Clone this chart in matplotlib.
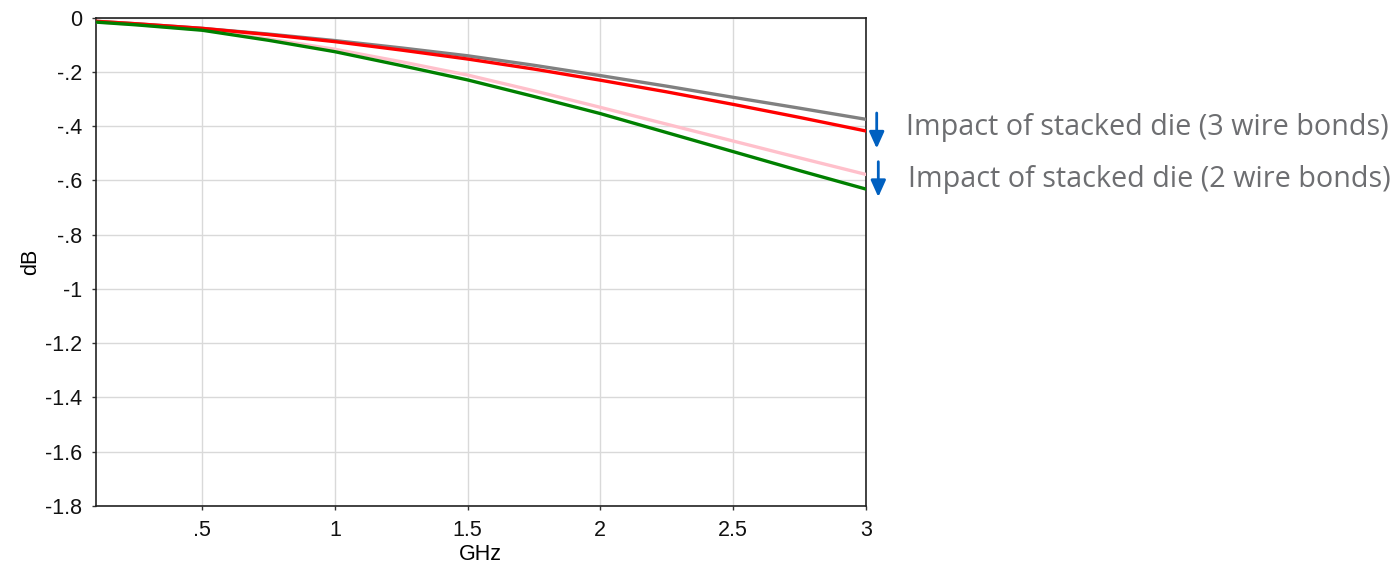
import matplotlib
matplotlib.use("Agg")
import matplotlib.pyplot as plt

# Insertion loss vs frequency for four package configurations
freq_ghz = [0.1, 0.25, 0.5, 0.75, 1.0, 1.25, 1.5, 1.75, 2.0, 2.25, 2.5, 2.75, 3.0]
loss_gray = [-0.014, -0.023, -0.040, -0.061, -0.085, -0.112, -0.141, -0.176, -0.214, -0.253, -0.294, -0.334, -0.375]
loss_red = [-0.014, -0.023, -0.040, -0.063, -0.089, -0.120, -0.153, -0.190, -0.231, -0.274, -0.320, -0.368, -0.418]
loss_pink = [-0.016, -0.026, -0.045, -0.079, -0.117, -0.163, -0.212, -0.270, -0.331, -0.393, -0.455, -0.517, -0.578]
loss_green = [-0.017, -0.027, -0.047, -0.084, -0.126, -0.177, -0.230, -0.291, -0.354, -0.424, -0.494, -0.564, -0.632]

x_ticks = [0.5, 1.0, 1.5, 2.0, 2.5, 3.0]
x_tick_labels = [".5", "1", "1.5", "2", "2.5", "3"]
y_ticks = [0, -0.2, -0.4, -0.6, -0.8, -1.0, -1.2, -1.4, -1.6, -1.8]
y_tick_labels = ["0", "-.2", "-.4", "-.6", "-.8", "-1", "-1.2", "-1.4", "-1.6", "-1.8"]

notes = ["Impact of stacked die (3 wire bonds)", "Impact of stacked die (2 wire bonds)"]

W, H = 1394, 567
fig = plt.figure(figsize=(W / 100, H / 100), dpi=100)
ax = fig.add_axes([96 / W, 1 - 506 / H, (865.7 - 96) / W, (506 - 17.5) / H])

lw = 2.4
ax.plot(freq_ghz, loss_gray, color="#808080", lw=lw, zorder=3)
ax.plot(freq_ghz, loss_red, color="#ff0000", lw=lw, zorder=4)
ax.plot(freq_ghz, loss_pink, color="#ffc0cb", lw=lw, zorder=3)
ax.plot(freq_ghz, loss_green, color="#008000", lw=lw, zorder=4)

ax.set_xlim(0.1, 3.0)
ax.set_ylim(-1.8, 0)
ax.set_xticks(x_ticks)
ax.set_xticklabels(x_tick_labels)
ax.set_yticks(y_ticks)
ax.set_yticklabels(y_tick_labels)

for lab in ax.get_xticklabels() + ax.get_yticklabels():
    lab.set_fontfamily("Liberation Sans")
    lab.set_fontsize(15.5)
ax.tick_params(axis="both", direction="out", length=3, width=1, color="#333333",
               labelcolor="#111111")
ax.tick_params(axis="x", pad=7)
ax.tick_params(axis="y", pad=7)

ax.grid(True, color="#d9d9d9", lw=1)
ax.set_axisbelow(True)
for s in ax.spines.values():
    s.set_color("#222222")
    s.set_linewidth(1.2)

ax.set_xlabel("GHz", fontfamily="Liberation Sans", fontsize=15.5, labelpad=2)
ax.set_ylabel("dB", fontfamily="Liberation Sans", fontsize=15.5, labelpad=3)

# Downward arrows and their captions at the right of the plot
arrow_props = dict(arrowstyle="-|>,head_length=1.0,head_width=0.45", color="#0060c0",
                   lw=2, shrinkA=0, shrinkB=0)
for (x0, y0, y1) in [(876.7, 113, 148.5), (878.3, 161.7, 197)]:
    ax.annotate("", xy=(x0, H - y1), xytext=(x0, H - y0), xycoords="figure pixels",
                textcoords="figure pixels", arrowprops=arrow_props, annotation_clip=False)

for text, (tx, ty) in zip(notes, [(906, 127), (908, 179)]):
    fig.text(tx / W, 1 - ty / H, text, ha="left", va="center", color="#6d6e71",
             fontsize=20.7, fontfamily="Open Sans")

fig.savefig("out.png", dpi=100)
